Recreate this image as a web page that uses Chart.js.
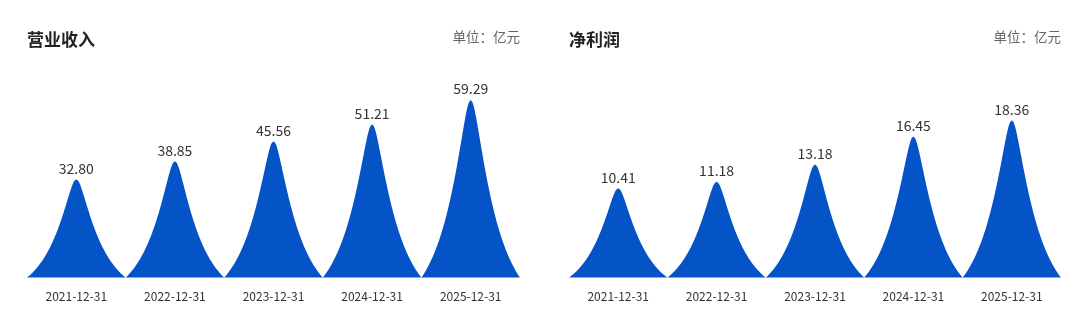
<!DOCTYPE html>
<html>
<head>
<meta charset="utf-8">
<script src="https://cdn.jsdelivr.net/npm/chart.js@4"></script>
<style>
  html, body { margin: 0; padding: 0; background: #fff; }
  .wrap { display: flex; width: 1080px; height: 334px; }
  .panel { position: relative; width: 540px; height: 334px; }
</style>
</head>
<body>
<div class="wrap">
  <div class="panel"><canvas id="revenueChart"></canvas></div>
  <div class="panel"><canvas id="profitChart"></canvas></div>
</div>
<script>
'use strict';

// ---- data ----
const categories = ['2021-12-31', '2022-12-31', '2023-12-31', '2024-12-31', '2025-12-31'];
const revenue = [32.80, 38.85, 45.56, 51.21, 59.29];
const netProfit = [10.41, 11.18, 13.18, 16.45, 18.36];
const titles = ['营业收入', '净利润'];
const unitLabel = '单位：亿元';

const FONT = '"Noto Sans CJK SC", "Noto Sans", sans-serif';
const BLUE = '#0454C8';

// spike profile: half-width (as fraction of bar width) at height fraction f
const K = 0.25, C = 0.06;
const H0 = Math.exp((C - Math.sqrt(0.25 + C * C)) / K);
function halfWidth(f) {
  const raw = H0 + f * (1 - H0);
  const r = C - K * Math.log(raw);
  return Math.min(0.5, Math.sqrt(Math.max(0, r * r - C * C)));
}

// draws each bar as a spike from the bar's own geometry
const spikePlugin = {
  id: 'spikes',
  afterDatasetsDraw(chart) {
    const ctx = chart.ctx;
    const meta = chart.getDatasetMeta(0);
    ctx.save();
    ctx.fillStyle = BLUE;
    meta.data.forEach(bar => {
      const { x, y, base, width } = bar.getProps(['x', 'y', 'base', 'width'], true);
      const h = base - y;
      const steps = 80;
      ctx.beginPath();
      ctx.moveTo(x - width / 2, base);
      for (let i = 1; i <= steps; i++) {
        const f = i / steps;
        ctx.lineTo(x - halfWidth(f) * width, base - f * h);
      }
      for (let i = steps - 1; i >= 0; i--) {
        const f = i / steps;
        ctx.lineTo(x + halfWidth(f) * width, base - f * h);
      }
      ctx.closePath();
      ctx.fill();
    });

    // value labels
    ctx.fillStyle = '#333';
    ctx.font = '14px ' + FONT;
    ctx.textAlign = 'center';
    ctx.textBaseline = 'bottom';
    const values = chart.data.datasets[0].data;
    meta.data.forEach((bar, i) => {
      ctx.fillText(values[i].toFixed(2), bar.x, bar.y - 4);
    });
    ctx.restore();
  },
  afterDraw(chart) {
    const ctx = chart.ctx;
    const area = chart.chartArea;
    ctx.save();
    ctx.textBaseline = 'middle';
    ctx.fillStyle = '#222';
    ctx.font = 'bold 17px ' + FONT;
    ctx.textAlign = 'left';
    ctx.fillText(chart.options.plugins.panelTitle.text, area.left, 40);
    ctx.fillStyle = '#666';
    ctx.font = '13.5px ' + FONT;
    ctx.textAlign = 'right';
    ctx.fillText(unitLabel, area.right, 37);
    ctx.restore();
  }
};

function makeChart(id, title, data, yMax, padLeft, padRight) {
  const el = document.getElementById(id);
  return new Chart(el, {
    type: 'bar',
    data: {
      labels: categories,
      datasets: [{
        data: data,
        backgroundColor: 'rgba(0,0,0,0)',
        borderWidth: 0,
        categoryPercentage: 1,
        barPercentage: 1,
      }],
    },
    options: {
      responsive: true,
      maintainAspectRatio: false,
      animation: false,
      layout: { padding: { top: 77, bottom: 26, left: padLeft, right: padRight } },
      plugins: {
        legend: { display: false },
        tooltip: { enabled: false },
        panelTitle: { text: title },
      },
      scales: {
        x: {
          grid: { display: false },
          border: { display: false },
          ticks: { color: '#333', font: { size: 12, family: FONT }, padding: 4, maxRotation: 0 },
        },
        y: {
          display: false,
          min: 0,
          max: yMax,
        },
      },
    },
    plugins: [spikePlugin],
  });
}

makeChart('revenueChart', titles[0], revenue, 67, 27, 20);
makeChart('profitChart', titles[1], netProfit, 23.4, 29, 19);
</script>
</body>
</html>
